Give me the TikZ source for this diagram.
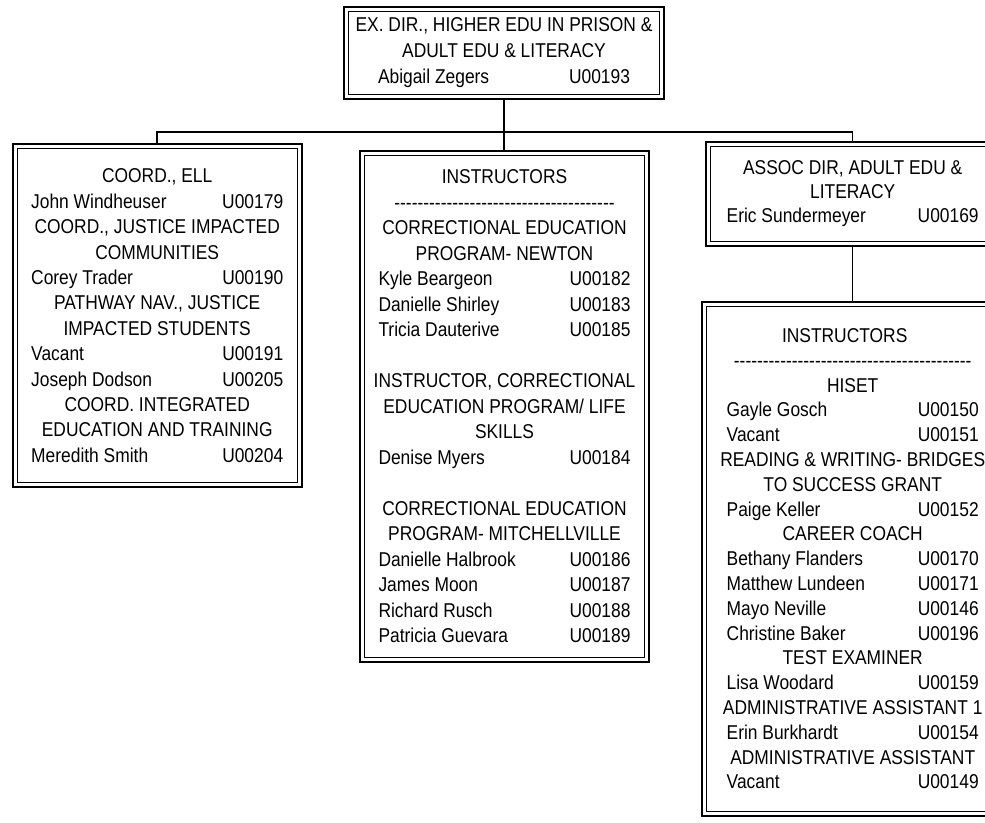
\documentclass[tikz,border=0pt]{standalone}
\usepackage{fontspec}
\newfontfamily\boxfont[FakeStretch=0.87]{Liberation Sans}
\newcommand\nm[2]{\makebox[252pt]{#1\hfill#2}}
\newcommand\dashrow[1]{\foreach \i in {1,...,#1}{-\kern0pt}}
\tikzset{
  orgbox/.style={draw, line width=2pt, inner sep=0pt, outer sep=0pt, align=center,
    font=\boxfont\fontsize{20}{#1}\selectfont},
  innerline/.style={line width=1pt},
  conn/.style={line width=1.5pt}
}
\begin{document}
\begin{tikzpicture}[x=1pt,y=-1pt]
\fill[white] (0,0) rectangle (985,822);
\path[use as bounding box, clip] (0,0) rectangle (985,822);

\node[orgbox=26pt, minimum width=319.4pt, minimum height=92.3pt] (top) at (504,52.9)
 {EX. DIR., HIGHER EDU IN PRISON \&\\ ADULT EDU \& LITERACY\\ \nm{Abigail Zegers}{U00193}};

\node[orgbox=25.4pt, minimum width=289pt, minimum height=343pt] (left) at (157.2,315.8)
 {COORD., ELL\\ \nm{John Windheuser}{U00179}\\ COORD., JUSTICE IMPACTED\\ COMMUNITIES\\
  \nm{Corey Trader}{U00190}\\ PATHWAY NAV., JUSTICE\\ IMPACTED STUDENTS\\
  \nm{Vacant}{U00191}\\ \nm{Joseph Dodson}{U00205}\\ COORD. INTEGRATED\\
  EDUCATION AND TRAINING\\ \nm{Meredith Smith}{U00204}};

\node[orgbox=25.5pt, minimum width=289.3pt, minimum height=511.6pt] (mid) at (504.5,406.5)
 {INSTRUCTORS\\ \dashrow{38}\\ CORRECTIONAL EDUCATION\\ PROGRAM- NEWTON\\
  \nm{Kyle Beargeon}{U00182}\\ \nm{Danielle Shirley}{U00183}\\ \nm{Tricia Dauterive}{U00185}\\[25.5pt]
  INSTRUCTOR, CORRECTIONAL\\ EDUCATION PROGRAM/ LIFE\\ SKILLS\\ \nm{Denise Myers}{U00184}\\[25.5pt]
  CORRECTIONAL EDUCATION\\ PROGRAM- MITCHELLVILLE\\ \nm{Danielle Halbrook}{U00186}\\
  \nm{James Moon}{U00187}\\ \nm{Richard Rusch}{U00188}\\ \nm{Patricia Guevara}{U00189}};

\node[orgbox=24pt, minimum width=293.4pt, minimum height=104.6pt] (ra) at (852.7,194)
 {ASSOC DIR, ADULT EDU \&\\ LITERACY\\ \nm{Eric Sundermeyer}{U00169}};

\node[orgbox=24.8pt, minimum width=302pt, minimum height=514.3pt] (rb) at (852.7,558.8)
 {INSTRUCTORS\hspace*{16pt}\\ \dashrow{41}\hspace*{16pt}\\ HISET\hspace*{16pt}\\
  \nm{Gayle Gosch}{U00150}\\ \nm{Vacant}{U00151}\\ READING \& WRITING- BRIDGES\\
  TO SUCCESS GRANT\hspace*{24pt}\\ \nm{Paige Keller}{U00152}\\ CAREER COACH\\
  \nm{Bethany Flanders}{U00170}\\ \nm{Matthew Lundeen}{U00171}\\ \nm{Mayo Neville}{U00146}\\
  \nm{Christine Baker}{U00196}\\ TEST EXAMINER\\ \nm{Lisa Woodard}{U00159}\\
  ADMINISTRATIVE ASSISTANT 1\\ \nm{Erin Burkhardt}{U00154}\\ ADMINISTRATIVE ASSISTANT\\
  \nm{Vacant}{U00149}};

\foreach \n in {top,left,mid,ra,rb}
  \draw[innerline] ([xshift=4.5pt,yshift=-4.5pt]\n.north west) rectangle ([xshift=-4.5pt,yshift=4.5pt]\n.south east);

\coordinate (bus) at (504,132);
\draw[conn] (top.south) -- (top.south |- mid.north);
\draw[conn] (left.north) |- (bus) -| (ra.north);
\draw[conn] (ra.south) -- (rb.north);
\end{tikzpicture}
\end{document}
